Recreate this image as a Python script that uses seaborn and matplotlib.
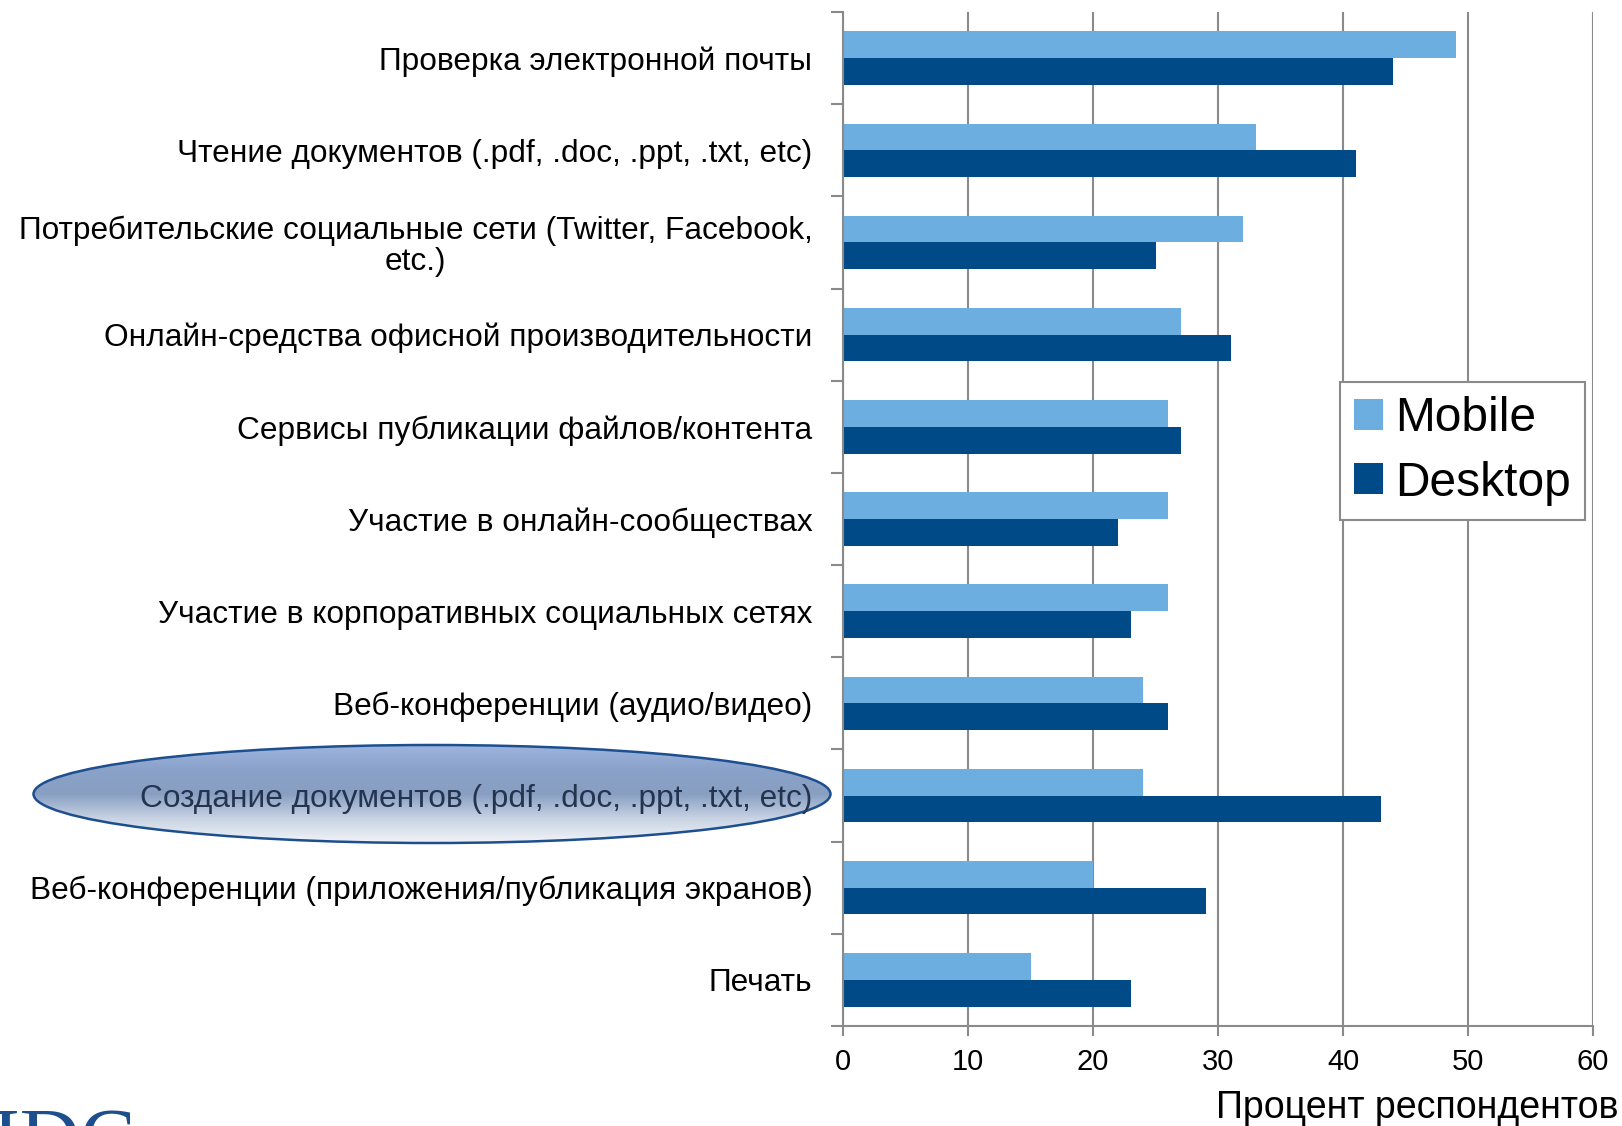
import numpy as np
import pandas as pd
import matplotlib
matplotlib.use("Agg")
import matplotlib.pyplot as plt
import seaborn as sns
from matplotlib.patches import Ellipse

categories = [
    "Проверка электронной почты",
    "Чтение документов (.pdf, .doc, .ppt, .txt, etc)",
    "Потребительские социальные сети (Twitter, Facebook,\netc.)",
    "Онлайн-средства офисной производительности",
    "Сервисы публикации файлов/контента",
    "Участие в онлайн-сообществах",
    "Участие в корпоративных социальных сетях",
    "Веб-конференции (аудио/видео)",
    "Создание документов (.pdf, .doc, .ppt, .txt, etc)",
    "Веб-конференции (приложения/публикация экранов)",
    "Печать",
]
mobile = [49, 33, 32, 27, 26, 26, 26, 24, 24, 20, 15]
desktop = [44, 41, 25, 31, 27, 22, 23, 26, 43, 29, 23]
series = ["Mobile", "Desktop"]
xticks = [0, 10, 20, 30, 40, 50, 60]
highlight = 8  # "Создание документов"

df = pd.DataFrame({
    "cat": categories * 2,
    "val": mobile + desktop,
    "series": [series[0]] * len(categories) + [series[1]] * len(categories),
})

sns.set_style("white", {"text.color": "black", "xtick.color": "black", "ytick.color": "black"})
plt.rcParams["font.family"] = ["Liberation Sans", "DejaVu Sans"]

W, H = 1622, 1126
fig = plt.figure(figsize=(W / 100, H / 100), dpi=100)

# highlight ellipse sits behind the chart, under the category label
ov = fig.add_axes([0, 0, 1, 1], zorder=0)
ov.set_xlim(0, W)
ov.set_ylim(H, 0)
ov.axis("off")
ell = Ellipse((432, 794), 797, 98, facecolor="none", edgecolor="#1d4f8f", linewidth=1.8, zorder=3)
ov.add_patch(ell)
grad = np.linspace(0, 1, 256)[:, None]
cmap = matplotlib.colors.LinearSegmentedColormap.from_list(
    "g", ["#9db4e0", "#8aa2c8", "#889fc2", "#c8d3e3", "#f2f4f8"])
img = ov.imshow(grad, extent=(33, 831, 843, 745), cmap=cmap, aspect="auto", zorder=1)
img.set_clip_path(ell)
ov.text(-8, 1165, "IDC", fontsize=60, family="Liberation Serif", color="#1d4f8f",
        va="baseline", ha="left")

ax = fig.add_axes([843 / W, 1 - 1026 / H, 750 / W, 1014 / H], zorder=1)
ax.patch.set_alpha(0)

pal = {"Mobile": "#6caee0", "Desktop": "#004a87"}
sns.barplot(data=df, x="val", y="cat", hue="series", palette=pal, orient="h",
            width=0.58, linewidth=0, saturation=1, ax=ax, legend=True)

grid_c = "#8a8a8a"
ax.set_xlim(0, 60)
ax.set_xticks(xticks)
ax.set_xticklabels([str(t) for t in xticks], fontsize=21)
ax.xaxis.grid(True, color=grid_c, linewidth=1.5)
ax.set_axisbelow(True)
ax.set_xlabel("")
ax.set_ylabel("")
for s in ["top", "right"]:
    ax.spines[s].set_visible(False)
for s in ["left", "bottom"]:
    ax.spines[s].set_color(grid_c)
    ax.spines[s].set_linewidth(1.5)

ax.tick_params(axis="x", bottom=True, direction="out", length=7, width=1.5, color=grid_c, pad=9)
ax.tick_params(axis="y", which="major", left=False, length=0, pad=22, labelsize=22.8)
ax.set_yticks(np.arange(-0.5, len(categories), 1), minor=True)
ax.tick_params(axis="y", which="minor", left=True, direction="out", length=9, width=1.5, color=grid_c)
for i, lab in enumerate(ax.get_yticklabels()):
    lab.set_multialignment("center")
    lab.set_linespacing(1.05)
    if i == highlight:
        lab.set_color("#24344f")

leg = ax.legend(loc="center left", bbox_to_anchor=(1340 / W, 1 - 451 / H),
                bbox_transform=fig.transFigure, fontsize=34.5, frameon=True, borderaxespad=0,
                fancybox=False, edgecolor=grid_c, handlelength=0.6, handleheight=0.6,
                handletextpad=0.25, borderpad=0.3, labelspacing=0.4, framealpha=1)
leg.get_frame().set_linewidth(1.5)

fig.text(1 - 4 / W, 8 / H, "Процент респондентов", ha="right", va="baseline", fontsize=27)

fig.savefig("out.png", dpi=100)
